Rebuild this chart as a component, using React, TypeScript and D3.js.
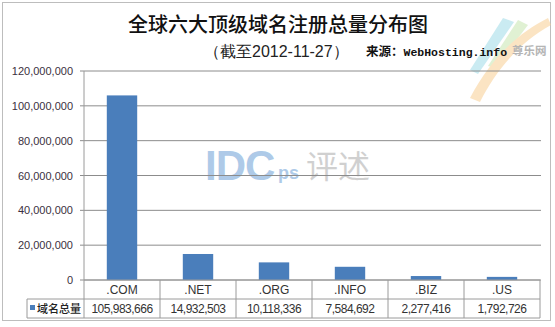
import React from "react";
import * as d3 from "d3";

const categories = [".COM", ".NET", ".ORG", ".INFO", ".BIZ", ".US"];
const values = [105983666, 14932503, 10118336, 7584692, 2277416, 1792726];
const yTicks = [0, 20000000, 40000000, 60000000, 80000000, 100000000, 120000000];
const seriesName = "域名总量";
const title = "全球六大顶级域名注册总量分布图";
const subtitle = "（截至2012-11-27）";
const sourceLabel = "来源：";
const sourceSite = "WebHosting.info";

export default function App() {
  const W = 555, H = 327;
  const left = 84, right = 540, top = 71, bottom = 280;
  const row1 = 299, row2 = 318;
  const x = d3.scaleBand().domain(categories).range([left, right]).paddingInner(0.6).paddingOuter(0.3);
  const xc = d3.scaleBand().domain(categories).range([left, right]);
  const y = d3.scaleLinear().domain([0, 120000000]).range([bottom, top]);
  const fmt = d3.format(",");
  const numFont = "'Liberation Sans', Arial, sans-serif";
  const cjk = "'Noto Sans CJK SC', sans-serif";
  const mono = "'Liberation Mono', 'DejaVu Sans Mono', monospace";
  const grid = "#8c8c8c";
  const tbl = "#9a9a9a";
  return (
    <svg width={W} height={H} style={{ position: "absolute", left: 0, top: 0, background: "#fff" }}>
      <rect x={2.5} y={2.5} width={548} height={318} fill="#fff" stroke="#bdbdbd" />
      {/* watermarks */}
      <g opacity={0.55}>
        <path d="M470,70 L503,18 L514,22 L478,74 Z" fill="#9fdbe8" />
        <path d="M488,66 L518,20 L528,25 L495,68 Z" fill="#c7e6b0" />
        <path d="M470,98 C490,60 515,35 548,18 L551,25 C520,42 496,70 480,102 Z" fill="#f9cf93" />
      </g>
      <text x={512} y={55} fontFamily={cjk} fontSize={11.5} fontWeight={700} fill="#b5b5b5">尊乐网</text>
      <text x={205} y={180} fontFamily={numFont} fontWeight={700} fontSize={42} fill="#6d9fd6" opacity={0.55} letterSpacing={-1}>IDC</text>
      <text x={278} y={179} fontFamily={numFont} fontWeight={700} fontSize={18} fill="#6d9fd6" opacity={0.55}>ps</text>
      <text x={306} y={178} fontFamily={cjk} fontSize={32} fill="#bdbdbd" opacity={0.7}>评述</text>

      <text x={278} y={32} textAnchor="middle" fontFamily={cjk} fontSize={20} fontWeight={500} fill="#111">{title}</text>
      <text x={204} y={57} fontFamily={numFont} fontSize={16} fill="#222">{subtitle}</text>
      <text x={366} y={56} fontWeight={700} fill="#111">
        <tspan fontFamily={cjk} fontSize={12.5}>{sourceLabel}</tspan>
        <tspan fontFamily={mono} fontSize={11.5}>{sourceSite}</tspan>
      </text>

      {yTicks.map((t) => (
        <g key={t}>
          <line x1={left - 4} x2={right + 1} y1={y(t)} y2={y(t)} stroke={grid} strokeWidth={1} />
          <text x={73} y={y(t) + 4} textAnchor="end" fontFamily={numFont} fontSize={11} fill="#3b3040">{fmt(t)}</text>
        </g>
      ))}
      <line x1={left} x2={left} y1={top} y2={row2} stroke={tbl} />
      {categories.map((c, i) => (
        <rect key={c} x={x(c)} y={y(values[i])} width={x.bandwidth()} height={bottom - y(values[i])} fill="#4a7ebb" />
      ))}
      {/* data table */}
      <line x1={left} x2={right} y1={bottom} y2={bottom} stroke={tbl} />
      <line x1={27} x2={right} y1={row1} y2={row1} stroke={tbl} />
      <line x1={27} x2={right} y1={row2} y2={row2} stroke={tbl} />
      <line x1={27} x2={27} y1={row1} y2={row2} stroke={tbl} />
      {categories.map((c, i) => (
        <g key={c}>
          <line x1={(xc(c) as number) + xc.bandwidth()} x2={(xc(c) as number) + xc.bandwidth()} y1={bottom} y2={row2} stroke={tbl} />
          <text x={(xc(c) as number) + xc.bandwidth() / 2} y={294} textAnchor="middle" fontFamily={numFont} fontSize={12} fill="#333">{c}</text>
          <text x={(xc(c) as number) + xc.bandwidth() / 2} y={313} textAnchor="middle" fontFamily={numFont} fontSize={12} fill="#333" letterSpacing={-0.5}>{fmt(values[i])}</text>
        </g>
      ))}
      <rect x={30} y={305} width={5} height={5} fill="#4a7ebb" />
      <text x={37} y={313} fontFamily={cjk} fontSize={11} fontWeight={500} fill="#222">{seriesName}</text>
    </svg>
  );
}
